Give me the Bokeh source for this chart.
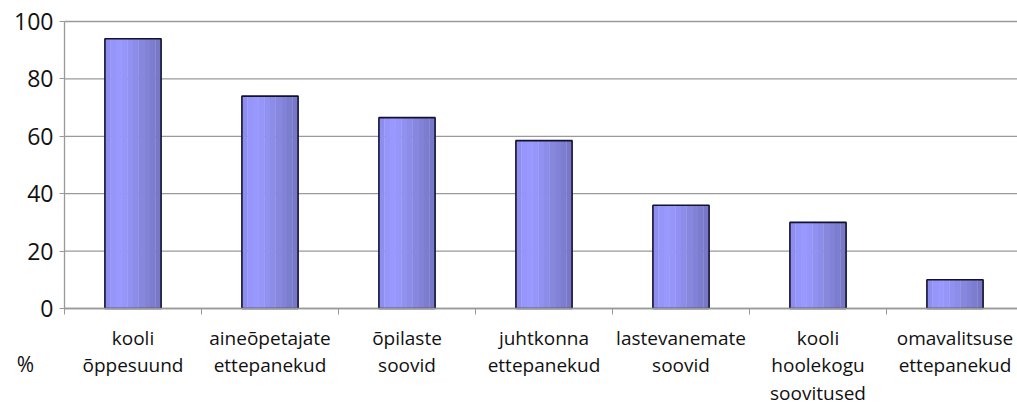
import numpy as np
from bokeh.plotting import figure
from bokeh.models import Range1d, FixedTicker, Label, ColumnDataSource
from bokeh.embed import file_html
from bokeh.resources import INLINE

categories = [
    "kooli\nõppesuund",
    "aineõpetajate\nettepanekud",
    "õpilaste\nsoovid",
    "juhtkonna\nettepanekud",
    "lastevanemate\nsoovid",
    "kooli\nhoolekogu\nsoovitused",
    "omavalitsuse\nettepanekud",
]
values = [94, 74, 66.5, 58.5, 36, 30, 10]
y_ticks = [0, 20, 40, 60, 80, 100]
y_title = "%"

stripe_colors = ["#8e8ef0", "#9595fa", "#9898ff", "#9696fa", "#9191f2", "#8c8ce9",
                 "#8787e0", "#8282d8", "#7d7dd0", "#7878c8"]

FONT = "Open Sans"
n = len(categories)
xs = np.arange(n) + 0.5
bar_w = 0.41

W, H = 1017, 408
PX_X = 137.0           # pixels per category
PX_Y = 2.87            # pixels per percent
X0, Y0 = 64, 308       # where x=0 / y=0 sit inside the figure
x_rng = Range1d(-X0 / PX_X, (W - X0) / PX_X)
y_rng = Range1d(-(H - Y0) / PX_Y, Y0 / PX_Y)

p = figure(width=W, height=H, output_backend="svg", toolbar_location=None,
           x_range=x_rng, y_range=y_rng, min_border=0)
p.outline_line_color = None
p.background_fill_color = "white"
p.border_fill_color = "white"
p.xgrid.visible = False
p.ygrid.visible = False

# horizontal gridlines at the y ticks
p.segment(x0=0, x1=x_rng.end, y0=y_ticks, y1=y_ticks, line_color="#9a9a9a",
          line_width=1.3, level="underlay")

src = ColumnDataSource(dict(x=xs, top=values))
sw = bar_w / len(stripe_colors)
for i, c in enumerate(stripe_colors):
    off = -bar_w / 2 + sw * (i + 0.5)
    p.vbar(x=xs + off, top=values, width=sw * 1.05, bottom=0, fill_color=c, line_color=None)
p.vbar(x="x", top="top", width=bar_w, bottom=0, source=src, fill_color=None,
       line_color="#111130", line_width=1.6)

# x axis
xa = p.xaxis[0]
xa.fixed_location = 0
xa.bounds = (0, n)
xa.ticker = FixedTicker(ticks=list(xs), minor_ticks=list(range(n + 1)))
xa.major_label_overrides = {float(x): c for x, c in zip(xs, categories)}
xa.major_tick_line_color = None
xa.minor_tick_out = 6
xa.minor_tick_in = 0
xa.minor_tick_line_color = "#999999"
xa.axis_line_color = "#999999"
xa.axis_line_width = 1.3
xa.major_label_text_font = FONT
xa.major_label_text_font_size = "19px"
xa.major_label_text_color = "#111111"
xa.major_label_text_line_height = 1.07
xa.major_label_standoff = 10

# y axis
ya = p.yaxis[0]
ya.fixed_location = 0
ya.bounds = (0, 100)
ya.ticker = FixedTicker(ticks=y_ticks)
ya.minor_tick_line_color = None
ya.major_tick_out = 5
ya.major_tick_in = 0
ya.major_tick_line_color = "#999999"
ya.axis_line_color = "#999999"
ya.axis_line_width = 1.3
ya.major_label_text_font = FONT
ya.major_label_text_font_size = "23px"
ya.major_label_text_color = "#111111"
ya.major_label_standoff = 6

lbl = Label(x=-39 / PX_X, y=-55 / PX_Y, text=y_title, text_align="center",
            text_baseline="middle", text_font=FONT, text_font_size="21px",
            text_color="#111111")
p.add_layout(lbl)

open("out.html", "w").write(file_html(p, INLINE))
